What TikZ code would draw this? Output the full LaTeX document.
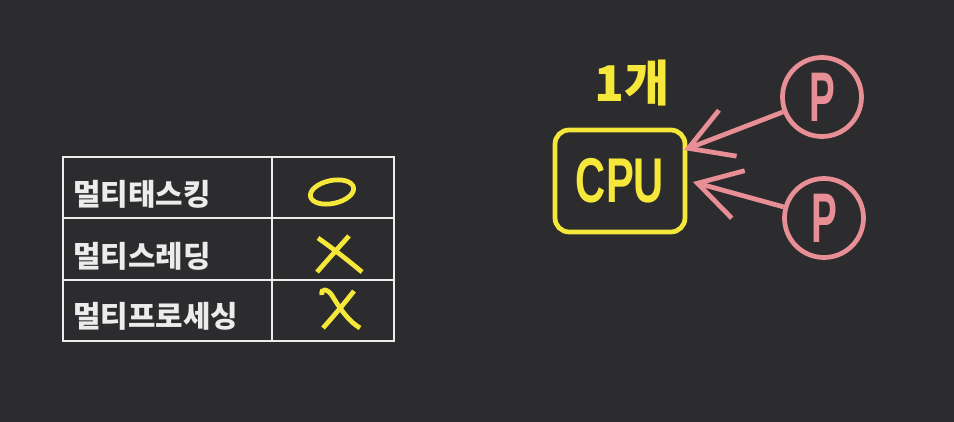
\documentclass[tikz,border=0pt]{standalone}
\usepackage{fontspec}
\newfontfamily\kr{Noto Sans CJK KR}
\newfontfamily\hand{Liberation Sans}
\usetikzlibrary{arrows.meta,positioning}
\definecolor{board}{RGB}{44,43,45}
\definecolor{chalk}{RGB}{236,236,236}
\definecolor{hiyellow}{RGB}{246,232,58}
\definecolor{hipink}{RGB}{232,143,150}
\tikzset{
    line cap=round, line join=round,
    grid/.style={draw=chalk, line width=1.2pt},
    cell/.style={anchor=west, inner sep=0pt, text=chalk, font=\kr\bfseries\fontsize{17}{20}\selectfont},
    ylw/.style={draw=hiyellow, line width=2.7pt},
    pnk/.style={draw=hipink, line width=2.7pt},
    proc/.style={circle, pnk, minimum size=1.58cm, inner sep=0pt, text=hipink, font=\hand\bfseries\fontsize{40}{40}\selectfont},
    toCpu/.style={pnk, -{Straight Barb[length=24pt, width=28pt]}}
}

\begin{document}
\begin{tikzpicture}[x=0.02cm, y=-0.02cm]
    % board
    \fill[board] (0,0) rectangle (954,422);

    % table on the left
    \draw[grid] (63,157) rectangle (394,341);
    \draw[grid] (272,157) -- (272,341);
    \foreach \r in {218,280}
        \draw[grid] (63,\r) -- (394,\r);

    \node[cell] (mtask) at (73,194) {멀티태스킹};
    \node[cell] (mthread) at (73,256) {멀티스레딩};
    \node[cell] (mproc) at (73,316) {멀티프로세싱};

    % yes / no marks
    \draw[ylw, rotate around={12:(332,192)}] (332,192) ellipse [x radius=0.44cm, y radius=0.23cm];
    \draw[ylw] (318,238) .. controls (335,250) and (350,262) .. (362,272);
    \draw[ylw] (349,236) .. controls (338,248) and (326,262) .. (317,272);
    \draw[ylw] (322,295) .. controls (320,288) and (328,288) .. (333,297)
        .. controls (342,312) and (350,322) .. (360,328);
    \draw[ylw] (354,291) .. controls (343,305) and (332,318) .. (323,328);

    % cpu and processes
    \node[ylw, rounded corners=8pt, minimum width=2.6cm, minimum height=2.04cm,
        text=hiyellow, font=\hand\bfseries\fontsize{36}{36}\selectfont] (cpu) at (620,181) {\scalebox{0.66}[1]{CPU}};
    \node[text=hiyellow, font=\kr\bfseries\fontsize{28}{30}\selectfont] (count) at (632,83) {1개};

    \node[proc] (p1) at (822,97) {\scalebox{0.55}[1]{P}};
    \node[proc] (p2) at (824,218) {\scalebox{0.55}[1]{P}};

    \coordinate (tip1) at (684,150);
    \coordinate (tip2) at (693,182);
    \draw[toCpu] (p1) -- (tip1);
    \draw[toCpu] (p2) -- (tip2);
\end{tikzpicture}
\end{document}
